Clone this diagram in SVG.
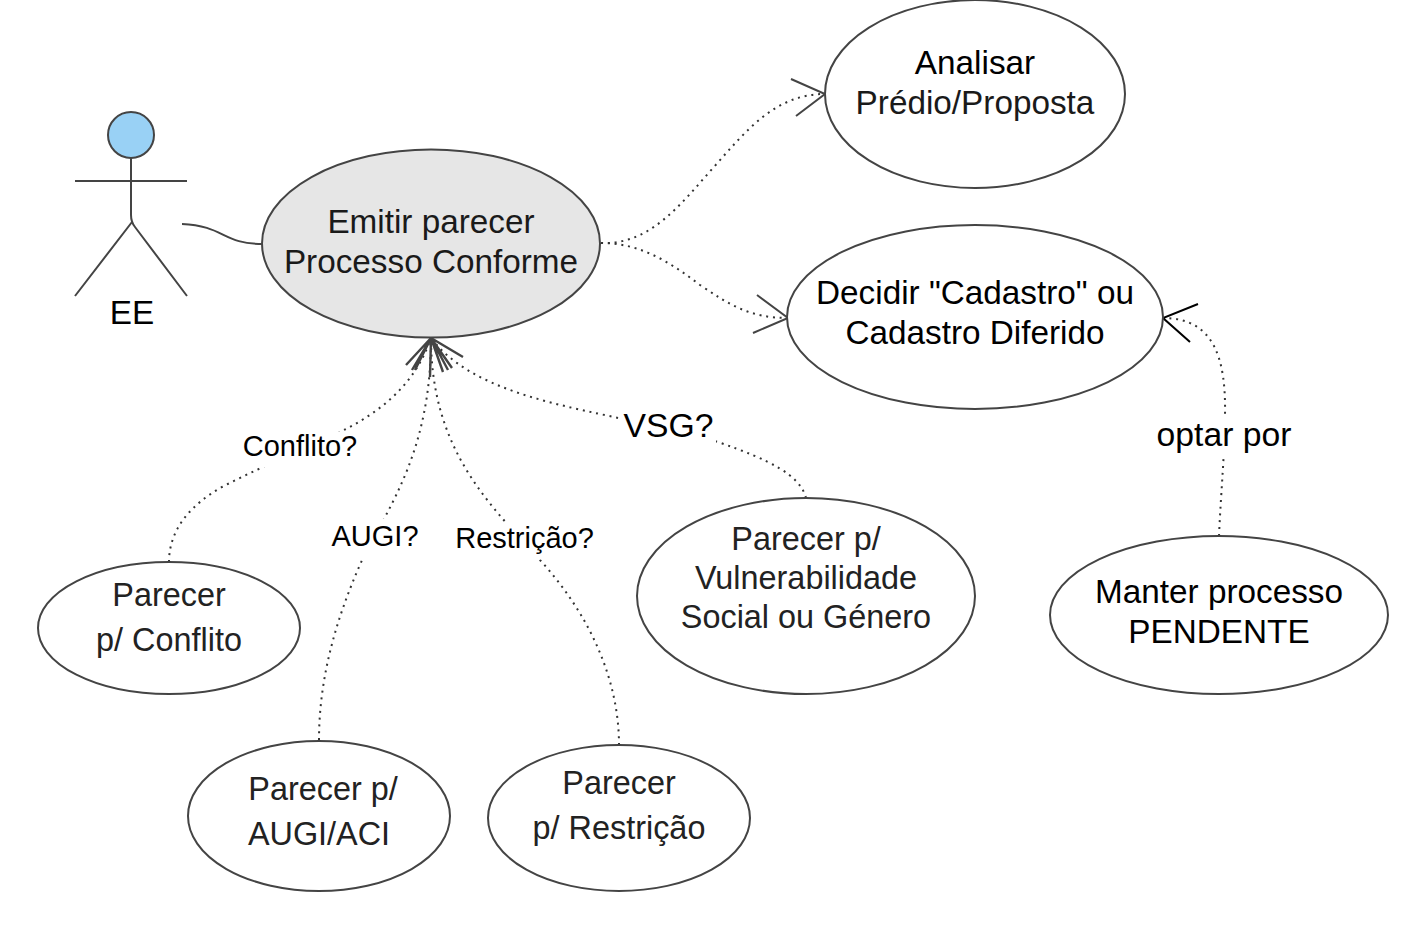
<svg xmlns="http://www.w3.org/2000/svg" width="1413" height="926" viewBox="0 0 1413 926">
<style>
text{font-family:"Liberation Sans",Arial,sans-serif;font-size:33.3px;fill:#1a1a1a;text-anchor:middle}
.n{fill:#fff;stroke:#444;stroke-width:2}
.d{fill:none;stroke:#333;stroke-width:2;stroke-dasharray:2 4.8}
.a{fill:none;stroke:#444;stroke-width:2}
.f{fill:none;stroke:#444;stroke-width:2.4}
.s{font-size:29px;fill:#000}
.k{fill:#000}
.p{font-size:32.4px;fill:#222}
</style>
<rect width="1413" height="926" fill="#fff"/>
<g id="connectors">
<path class="a" d="M182 224C225 226 222 244 263 244"/>
<path class="d" d="M601 243C650 245 680 205 713 168C746 131 775 94 825 94"/>
<path class="a" d="M791 79L825 94L796 116"/>
<path class="d" d="M601 243C640 243 670 262 700 285C730 305 750 318 788 318"/>
<path class="a" d="M757 295L788 318L753 333"/>
<path class="d" d="M1219 536C1221 490 1225 450 1225 415C1226 360 1215 318 1163 318"/>
<path class="a" style="stroke:#000" d="M1198 304L1163 318L1190 342"/>
<path class="d" d="M169 562C169 530 190 505 222 487C270 462 320 443 342 431C380 412 415 385 431 338"/>
<path class="d" d="M319 740C319 680 335 620 363 558C390 505 431 450 431 338"/>
<path class="d" d="M619 745C619 680 590 615 540 560C490 505 431 450 431 338"/>
<path class="d" d="M806 498C800 475 770 460 718 442C690 433 650 425 623 419C560 405 470 390 431 338"/>
<path class="f" d="M406 365L431 338L412 370M431 338L415 370M431 338L430 377M431 338L443 372M431 338L448 370M431 338L452 368M431 338L463 357"/>
</g>
<g id="actor-ee">
<circle cx="131" cy="135" r="23" fill="#99d1f5" stroke="#444" stroke-width="2"/>
<path class="a" d="M131 158V215Q131 222 135 227L187 296M132 222L75 296M75 181H187"/>
<text class="k" x="132" y="323.500">EE</text>
</g>
<g id="emitir">
<ellipse cx="431" cy="243.500" rx="169" ry="94" fill="#e6e6e6" stroke="#444" stroke-width="2"/>
<text x="431" y="232.500">Emitir parecer</text><text x="431" y="272.500">Processo Conforme</text>
</g>
<g id="analisar">
<ellipse class="n" cx="975" cy="94" rx="150" ry="94"/>
<text class="k" x="975" y="73.500">Analisar</text><text x="975" y="113.500">Prédio/Proposta</text>
</g>
<g id="decidir">
<ellipse class="n" cx="975" cy="317" rx="188" ry="92"/>
<text class="k" x="975" y="303.500">Decidir "Cadastro" ou</text><text class="k" x="975" y="343.500">Cadastro Diferido</text>
</g>
<g id="pendente">
<ellipse class="n" cx="1219" cy="615" rx="169" ry="79"/>
<text class="k" x="1219" y="602.500">Manter processo</text><text class="k" x="1219" y="642.500">PENDENTE</text>
</g>
<g id="vulnerabilidade">
<ellipse class="n" cx="806" cy="596" rx="169" ry="98"/>
<text class="p" x="806" y="549.500">Parecer p/</text><text class="p" x="806" y="588.500">Vulnerabilidade</text><text class="p" x="806" y="627.500">Social ou Género</text>
</g>
<g id="conflito">
<ellipse class="n" cx="169" cy="628" rx="131" ry="66"/>
<text class="p" x="169" y="605.500">Parecer</text><text class="p" x="169" y="650.500">p/ Conflito</text>
</g>
<g id="augi">
<ellipse class="n" cx="319" cy="816" rx="131" ry="75"/>
<text class="p" x="323" y="799.500">Parecer p/</text><text class="p" x="319" y="844.500">AUGI/ACI</text>
</g>
<g id="restricao">
<ellipse class="n" cx="619" cy="818" rx="131" ry="73"/>
<text class="p" x="619" y="793.500">Parecer</text><text class="p" x="619" y="838.500">p/ Restrição</text>
</g>
<g id="labels">
<rect x="242" y="431.500" width="116" height="36" fill="#fff"/><text class="s" x="300" y="455.500">Conflito?</text>
<rect x="330" y="518.500" width="90" height="39" fill="#fff"/><text class="s" x="375" y="545.500">AUGI?</text>
<rect x="454" y="522.500" width="141" height="37" fill="#fff"/><text class="s" x="524.500" y="547.500">Restrição?</text>
<rect x="622" y="408" width="94" height="36" fill="#fff"/><text class="k" style="font-size:33.700px" x="668.500" y="437">VSG?</text>
<rect x="1155" y="416" width="138" height="43" fill="#fff"/><text class="k" style="font-size:33.700px" x="1224" y="446">optar por</text>
</g>
</svg>
